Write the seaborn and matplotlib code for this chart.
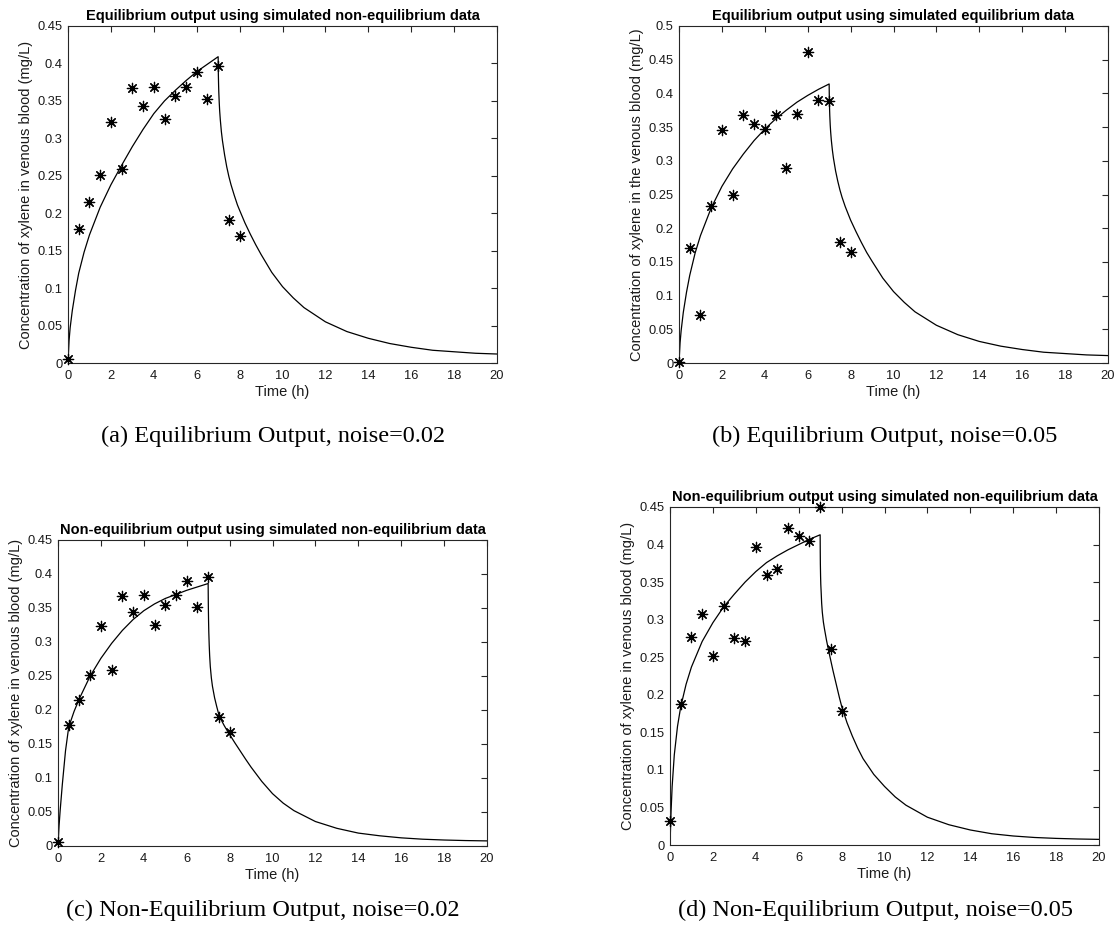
import matplotlib
matplotlib.use("Agg")
import matplotlib.pyplot as plt
import seaborn as sns

sns.set_theme(style="white")
plt.rcParams['font.family'] = ['Liberation Sans', 'DejaVu Sans']

# ---------------- data ----------------
t_obs = [0, 0.5, 1, 1.5, 2, 2.5, 3, 3.5, 4, 4.5, 5, 5.5, 6, 6.5, 7, 7.5, 8]
obs_a = [0.005, 0.179, 0.215, 0.251, 0.322, 0.259, 0.367, 0.343, 0.369, 0.326,
         0.356, 0.369, 0.389, 0.352, 0.396, 0.191, 0.169]
obs_b = [0.001, 0.171, 0.071, 0.233, 0.345, 0.250, 0.368, 0.355, 0.347, 0.368,
         0.290, 0.370, 0.462, 0.390, 0.389, 0.179, 0.165]
obs_c = [0.006, 0.178, 0.215, 0.251, 0.323, 0.259, 0.367, 0.344, 0.369, 0.325,
         0.355, 0.369, 0.389, 0.351, 0.396, 0.190, 0.168]
obs_d = [0.0325, 0.188, 0.277, 0.307, 0.251, 0.318, 0.275, 0.272, 0.397, 0.360,
         0.367, 0.422, 0.411, 0.405, 0.450, 0.261, 0.179]

t_fit = [0, 0.05, 0.1, 0.2, 0.35, 0.5, 0.75, 1, 1.5, 2, 2.5, 3, 3.5, 4, 4.5, 5,
         5.5, 6, 6.5, 7,
         7.005, 7.01, 7.02, 7.03, 7.05, 7.07, 7.1, 7.15, 7.2, 7.3, 7.4, 7.5,
         7.6, 7.75, 7.9, 8, 8.25, 8.5, 8.75, 9, 9.5, 10, 10.5, 11, 12, 13, 14,
         15, 16, 17, 18, 19, 20]
fit_a = [0, 0.030, 0.047, 0.070, 0.097, 0.120, 0.148, 0.171, 0.208, 0.238, 0.264,
         0.289, 0.312, 0.333, 0.350, 0.364, 0.377, 0.389, 0.399, 0.409,
         0.395, 0.385, 0.372, 0.362, 0.348, 0.337, 0.325, 0.309, 0.297, 0.278,
         0.262, 0.249, 0.238, 0.224, 0.211, 0.204, 0.187, 0.172, 0.158, 0.145,
         0.121, 0.102, 0.087, 0.074, 0.055, 0.042, 0.033, 0.026, 0.021, 0.017,
         0.015, 0.013, 0.012]
fit_b = [0, 0.030, 0.048, 0.075, 0.105, 0.130, 0.163, 0.189, 0.230, 0.262, 0.288,
         0.310, 0.330, 0.347, 0.362, 0.375, 0.387, 0.397, 0.406, 0.414,
         0.400, 0.390, 0.377, 0.367, 0.353, 0.343, 0.331, 0.316, 0.304, 0.285,
         0.270, 0.257, 0.246, 0.232, 0.220, 0.212, 0.195, 0.179, 0.164, 0.151,
         0.126, 0.106, 0.090, 0.076, 0.056, 0.042, 0.032, 0.025, 0.020, 0.016,
         0.014, 0.012, 0.011]
fit_c = [0, 0.030, 0.052, 0.090, 0.140, 0.175, 0.198, 0.217, 0.250, 0.276, 0.298,
         0.317, 0.333, 0.346, 0.356, 0.364, 0.370, 0.376, 0.381, 0.386,
         0.365, 0.350, 0.330, 0.315, 0.295, 0.280, 0.264, 0.247, 0.235, 0.218,
         0.205, 0.193, 0.186, 0.177, 0.169, 0.164, 0.1515, 0.1395, 0.1275,
         0.116, 0.095, 0.077, 0.063, 0.052, 0.036, 0.026, 0.019, 0.015, 0.012,
         0.010, 0.0088, 0.008, 0.0075]
fit_d = [0, 0.045, 0.078, 0.120, 0.158, 0.184, 0.214, 0.237, 0.271, 0.296, 0.317,
         0.334, 0.350, 0.364, 0.376, 0.385, 0.393, 0.400, 0.407, 0.413,
         0.390, 0.374, 0.358, 0.347, 0.335, 0.322, 0.310, 0.297, 0.288, 0.272,
         0.258, 0.245, 0.232, 0.214, 0.196, 0.185, 0.163, 0.145, 0.129, 0.115,
         0.094, 0.078, 0.064, 0.053, 0.037, 0.027, 0.020, 0.015, 0.012, 0.010,
         0.0088, 0.008, 0.0075]

titles = ["Equilibrium output using simulated non-equilibrium data",
          "Equilibrium output using simulated equilibrium data",
          "Non-equilibrium output using simulated non-equilibrium data",
          "Non-equilibrium output using simulated non-equilibrium data"]
ylabels = ["Concentration of xylene in venous blood (mg/L)",
           "Concentration of xylene in the venous blood (mg/L)",
           "Concentration of xylene in venous blood (mg/L)",
           "Concentration of xylene in venous blood (mg/L)"]
captions = ["(a) Equilibrium Output, noise=0.02",
            "(b) Equilibrium Output, noise=0.05",
            "(c) Non-Equilibrium Output, noise=0.02",
            "(d) Non-Equilibrium Output, noise=0.05"]
xticks = [0, 2, 4, 6, 8, 10, 12, 14, 16, 18, 20]
yticks_45 = [0, 0.05, 0.1, 0.15, 0.2, 0.25, 0.3, 0.35, 0.4, 0.45]
yticks_50 = [0, 0.05, 0.1, 0.15, 0.2, 0.25, 0.3, 0.35, 0.4, 0.45, 0.5]

# ---------------- layout ----------------
W, H = 1116, 933
fig = plt.figure(figsize=(W / 100, H / 100), dpi=100)
fig.patch.set_facecolor("white")

# pixel boxes: left, right, top, bottom
boxes = [(68, 497, 26, 363), (679, 1108, 26, 363),
         (58, 487, 540, 846), (670, 1099, 507, 845)]
cap_pos = [(273, 436), (885, 436), (263, 910), (875, 910)]
fits = [fit_a, fit_b, fit_c, fit_d]
obss = [obs_a, obs_b, obs_c, obs_d]
ylims = [0.45, 0.5, 0.45, 0.45]
ytk = [yticks_45, yticks_50, yticks_45, yticks_45]

axcol = "#262626"
for i in range(4):
    l, r, t, b = boxes[i]
    ax = fig.add_axes([l / W, 1 - b / H, (r - l) / W, (b - t) / H])
    ax.set_facecolor("white")
    sns.lineplot(x=t_fit, y=fits[i], ax=ax, color="black", linewidth=0.9,
                 sort=False, estimator=None)
    sns.scatterplot(x=t_obs, y=obss[i], ax=ax, marker=(8, 2, 0), s=55,
                    color="black", linewidth=0.9, clip_on=False, zorder=5)
    ax.set_xlim(0, 20)
    ax.set_ylim(0, ylims[i])
    ax.set_xticks(xticks)
    ax.set_xticklabels([str(v) for v in xticks])
    ax.set_yticks(ytk[i])
    ax.set_yticklabels(["%g" % v for v in ytk[i]])
    ax.tick_params(direction="in", length=4, width=0.8, colors=axcol,
                   labelsize=9.3, top=True, right=True)
    ax.tick_params(axis="x", pad=5)
    ax.tick_params(axis="y", pad=4)
    for lab in ax.get_xticklabels() + ax.get_yticklabels():
        lab.set_color("#1a1a1a")
    for sp in ax.spines.values():
        sp.set_visible(True)
        sp.set_color(axcol)
        sp.set_linewidth(0.8)
    ax.set_title(titles[i], fontsize=10.5, fontweight="bold", pad=4,
                 color="black")
    ax.set_xlabel("Time (h)", fontsize=10.5, color="#1a1a1a", labelpad=2)
    ax.set_ylabel(ylabels[i], fontsize=10.5, color="#1a1a1a", labelpad=3)
    cx, cy = cap_pos[i]
    fig.text(cx / W, 1 - cy / H, captions[i], ha="center", va="center",
             fontsize=17.5, family=["Liberation Serif", "DejaVu Serif"],
             color="black")

fig.savefig("out.png", dpi=100, facecolor="white")
